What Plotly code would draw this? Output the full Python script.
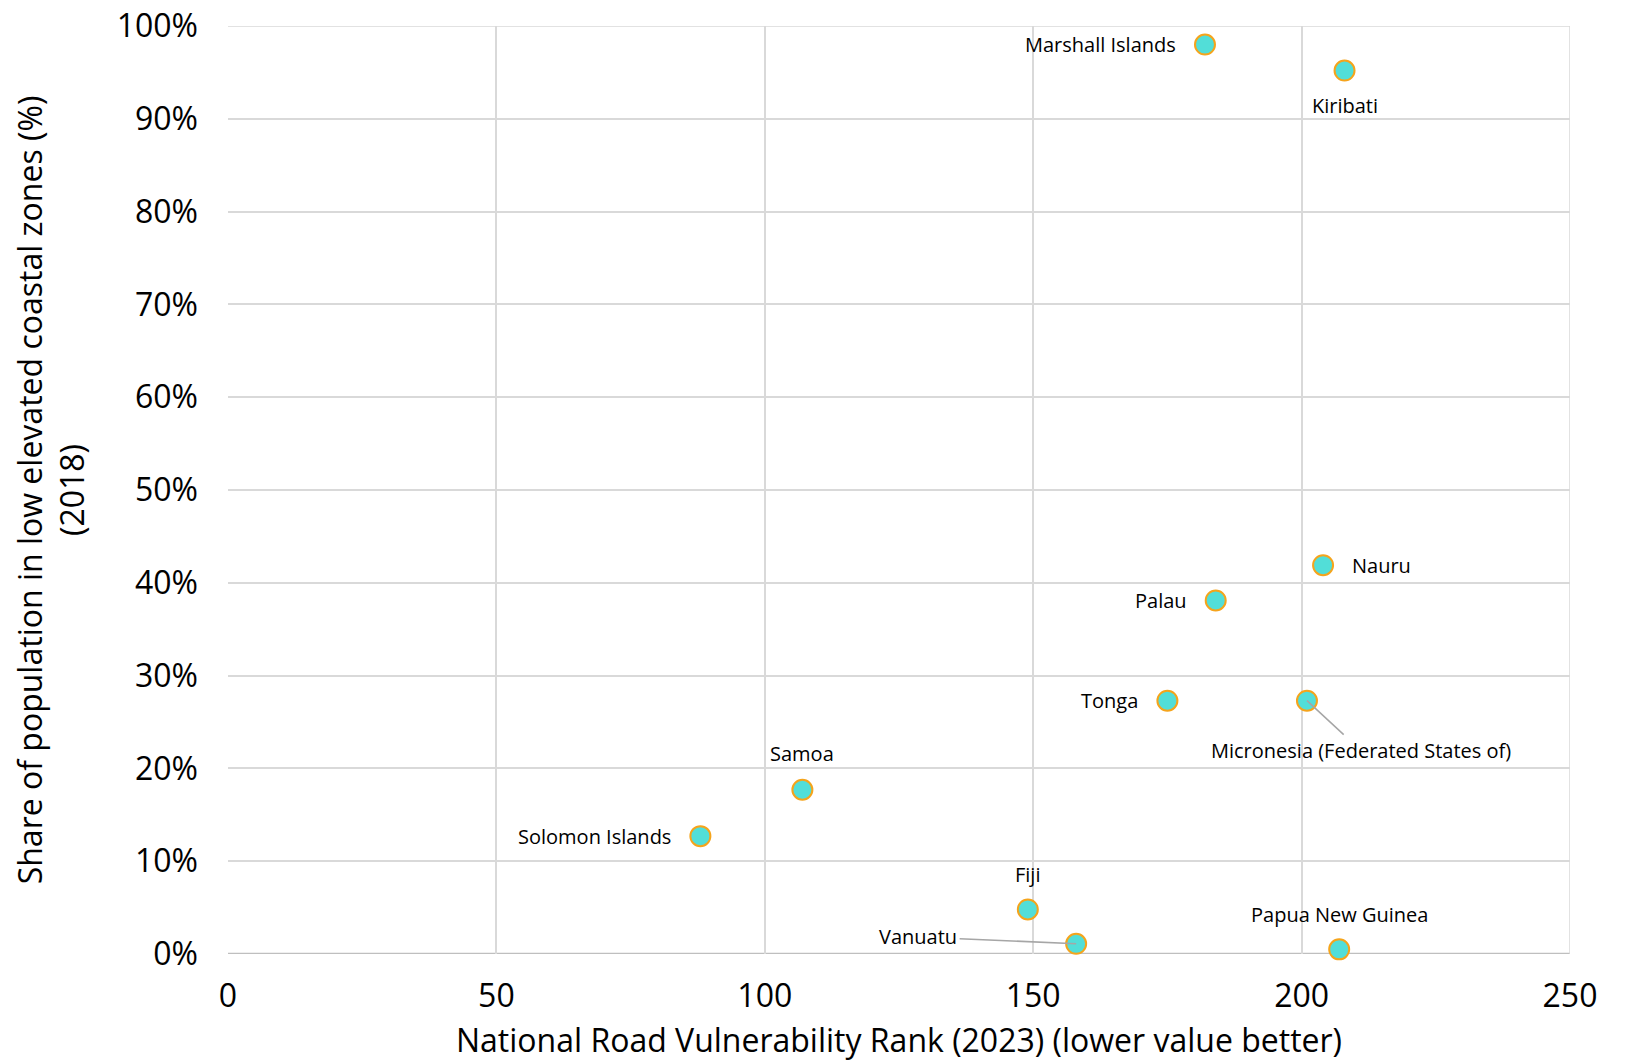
import plotly.graph_objects as go

countries = ["Marshall Islands", "Kiribati", "Nauru", "Palau", "Tonga",
             "Micronesia (Federated States of)", "Samoa", "Solomon Islands",
             "Fiji", "Vanuatu", "Papua New Guinea"]
road_rank = [182, 208, 204, 184, 175, 201, 107, 88, 149, 158, 207]
low_coastal_share = [0.980, 0.952, 0.419, 0.381, 0.273, 0.273, 0.177, 0.127, 0.048, 0.011, 0.005]

x_ticks = [0, 50, 100, 150, 200, 250]
y_ticks = [0, 0.1, 0.2, 0.3, 0.4, 0.5, 0.6, 0.7, 0.8, 0.9, 1.0]

FONT = "Open Sans"

fig = go.Figure()
fig.add_trace(go.Scatter(
    x=road_rank, y=low_coastal_share, mode="markers",
    marker=dict(size=20, color="#52DED8", line=dict(color="#F5A41C", width=2)),
    hoverinfo="text", text=countries, showlegend=False, cliponaxis=False,
))

# label placement: (xanchor, yanchor, xshift, yshift) or leader-line offsets
label_style = {
    "Marshall Islands": ("right", "middle", -27, 0),
    "Kiribati": ("center", "middle", 0, -35),
    "Nauru": ("left", "middle", 27, 0),
    "Palau": ("right", "middle", -27, 0),
    "Tonga": ("right", "middle", -27, 0),
    "Samoa": ("center", "middle", 0, 36),
    "Solomon Islands": ("right", "middle", -27, 0),
    "Fiji": ("center", "middle", 0, 35),
    "Papua New Guinea": ("center", "middle", 0, 35),
}
leader = {
    "Micronesia (Federated States of)": (54, 50),
    "Vanuatu": (-158, -7),
}

for name, xv, yv in zip(countries, road_rank, low_coastal_share):
    if name in label_style:
        xa, ya, xs, ys = label_style[name]
        fig.add_annotation(x=xv, y=yv, text=name, showarrow=False,
                           xanchor=xa, yanchor=ya, xshift=xs, yshift=ys,
                           font=dict(family=FONT, size=20, color="#000000"))
    else:
        ax, ay = leader[name]
        fig.add_annotation(x=xv, y=yv, text=name, showarrow=True,
                           arrowhead=0, arrowwidth=1.5, arrowcolor="#A6A6A6",
                           ax=ax, ay=ay, standoff=0, borderpad=2,
                           font=dict(family=FONT, size=20, color="#000000"))

fig.update_layout(
    width=1630, height=1064,
    margin=dict(l=220, r=68, t=18, b=118),
    paper_bgcolor="white", plot_bgcolor="white",
    font=dict(family=FONT, color="#000000"),
    xaxis=dict(
        range=[0, 250], tickvals=x_ticks, ticktext=[str(v) for v in x_ticks],
        showgrid=True, gridcolor="#D9D9D9", gridwidth=1.5,
        zeroline=False, showline=False, automargin=False,
        ticklabeloverflow="allow",
        tickfont=dict(size=32, family=FONT), ticklabelstandoff=20,
        title=dict(text="National Road Vulnerability Rank (2023) (lower value better)",
                   font=dict(size=32, family=FONT), standoff=14),
    ),
    yaxis=dict(
        range=[0, 1.0], tickvals=y_ticks,
        ticktext=[f"{int(round(v*100))}%" for v in y_ticks],
        showgrid=True, gridcolor="#D9D9D9", gridwidth=1.5,
        zeroline=False, showline=False, automargin=False,
        ticklabeloverflow="allow",
        tickfont=dict(size=32, family=FONT), ticklabelstandoff=29,
        title=dict(text="Share of population in low elevated coastal zones (%)<br>(2018)",
                   font=dict(size=32, family=FONT), standoff=25),
    ),
)
fig.add_shape(type="line", xref="paper", yref="y", x0=0, x1=1, y0=0, y1=0,
              line=dict(color="#BFBFBF", width=2.5), layer="below")
fig.add_shape(type="line", xref="x", yref="paper", x0=250, x1=250, y0=0, y1=1,
              line=dict(color="#D9D9D9", width=1.5), layer="below")
fig.add_shape(type="line", xref="paper", yref="y", x0=0, x1=1, y0=1, y1=1,
              line=dict(color="#D9D9D9", width=1.5), layer="below")

fig.write_html("out.html")
